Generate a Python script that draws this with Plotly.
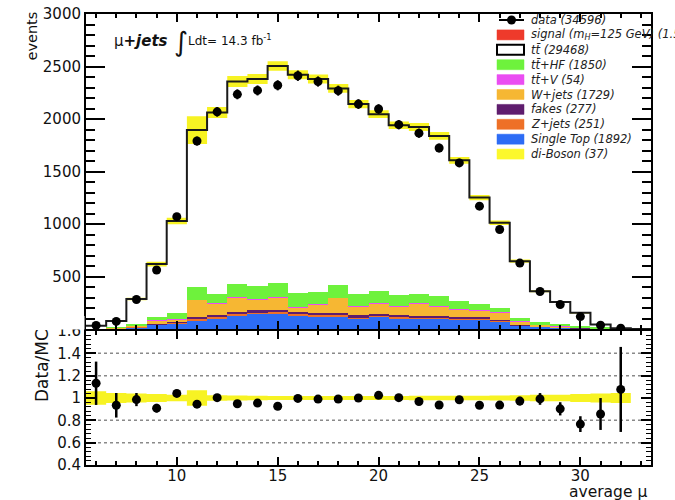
import numpy as np
import plotly.graph_objects as go

W, H = 675, 500

# bin centres of <mu> (unit-width bins)
bins = list(range(6, 33))

data_counts = [34, 72, 281, 562, 1070, 1790, 2068, 2235, 2272, 2321, 2412, 2357, 2270, 2142,
               2095, 1946, 1865, 1724, 1582, 1170, 948, 628, 357, 233, 118, 36, 8]

ttbar = [26.4, 57.7, 236.4, 503.8, 878.0, 1497.5, 1725.9, 1931.7, 1969.5, 2068.9, 2078.9, 2023.5,
         1876.6, 1810.2, 1681.6, 1617.0, 1590.2, 1524.1, 1338.5, 1011.9, 816.2, 543.8, 296.3,
         209.7, 124.2, 27.1, 2.4]
tthf = [1.0, 4.9, 14.6, 31.0, 55.4, 117.0, 87.0, 118.4, 125.4, 133.7, 137.0, 122.4, 114.5, 109.8,
        116.9, 103.0, 85.0, 93.2, 79.6, 62.0, 36.5, 30.0, 24.4, 20.6, 14.8, 8.9, 3.0]
ttv = [0.04, 0.12, 0.43, 0.93, 1.6, 2.9, 3.1, 3.6, 3.6, 3.8, 3.7, 3.6, 3.5, 3.2, 3.1, 2.9, 2.9,
       2.8, 2.4, 1.9, 1.5, 1.0, 0.6, 0.4, 0.2, 0.07, 0.02]
wjets = [0.7, 6.6, 12.0, 33.5, 27.7, 165.5, 112.4, 138.0, 102.7, 118.5, 40.0, 74.7, 140.0, 88.7,
         97.1, 85.3, 119.7, 93.7, 72.9, 64.2, 71.6, 32.8, 11.8, 10.1, 5.3, 2.6, 0.9]
fakes = [0.2, 0.6, 2.3, 4.7, 8.2, 14.6, 16.3, 18.0, 18.8, 19.2, 19.1, 18.2, 18.1, 16.5, 16.1,
         14.9, 15.2, 14.1, 12.7, 9.6, 8.1, 5.0, 3.0, 2.0, 1.2, 0.4, 0.1]
zjets = [0.2, 0.5, 2.0, 4.4, 7.1, 13.6, 14.2, 16.9, 16.5, 17.9, 16.8, 17.1, 15.9, 15.4, 14.1,
         13.9, 13.4, 13.2, 11.2, 9.1, 7.0, 4.7, 2.5, 1.9, 1.1, 0.3, 0.1]
single_top = [1.5, 6.5, 17, 39, 49, 81, 101, 128, 141, 141, 123, 118, 120, 96, 115, 101, 96, 96,
              88, 91.5, 70, 28, 21, 13, 7, 2.6, 0.9]
diboson = [0.0, 0.1, 0.3, 0.7, 1.0, 1.9, 2.1, 2.4, 2.5, 2.6, 2.5, 2.5, 2.4, 2.2, 2.1, 2.0, 2.0,
           1.9, 1.7, 1.3, 1.1, 0.7, 0.4, 0.3, 0.2, 0.05, 0.01]
signal = [0.0, 0.0, 0.01, 0.02, 0.04, 0.08, 0.09, 0.11, 0.12, 0.13, 0.12, 0.12, 0.11, 0.1, 0.09,
          0.08, 0.08, 0.07, 0.06, 0.04, 0.03, 0.02, 0.01, 0.01, 0.0, 0.0, 0.0]

# relative MC statistical uncertainty per bin
mc_rel_unc = [0.06, 0.045, 0.04, 0.035, 0.03, 0.07, 0.025, 0.022, 0.02, 0.018, 0.018, 0.018,
              0.018, 0.018, 0.018, 0.018, 0.02, 0.02, 0.02, 0.02, 0.022, 0.025, 0.028, 0.03,
              0.035, 0.04, 0.045]

x_range = [5.5, 33.5]
y_ticks_main = [0, 500, 1000, 1500, 2000, 2500, 3000]
y_ticks_ratio = [0.4, 0.6, 0.8, 1.0, 1.2, 1.4, 1.6]
ratio_grid = [0.6, 0.8, 1.2, 1.4]

C_SIG = "#ee3a2b"
C_HF = "#6ef23c"
C_TTV = "#ea4df2"
C_W = "#f6b733"
C_FAKE = "#5f1d6e"
C_Z = "#ee7027"
C_ST = "#2d6cf5"
C_VV = "#fcf82c"
C_BAND = "#f7f323"
FONT = "DejaVu Sans"


def px_x(p):
    return p / W


def px_y(p):
    return 1 - p / H


tbar = "tt\u0304"

fig = go.Figure()

# stacked backgrounds, bottom to top
stack = [
    (diboson, C_VV), (single_top, C_ST), (zjets, C_Z), (fakes, C_FAKE), (wjets, C_W),
    (ttv, C_TTV), (tthf, C_HF), (ttbar, "white"), (signal, C_SIG),
]
for vals, col in stack:
    fig.add_trace(go.Bar(x=bins, y=vals, width=1.0, marker=dict(color=col, line=dict(width=0)),
                         xaxis="x", yaxis="y", hoverinfo="skip"))

total = np.sum([np.array(v, dtype=float) for v, _ in stack], axis=0)
unc = np.array(mc_rel_unc)
data_arr = np.array(data_counts, dtype=float)

edges = [b - 0.5 for b in bins] + [bins[-1] + 0.5]


def band(lo, hi, xa, ya):
    lo_y = list(lo) + [lo[-1]]
    hi_y = list(hi) + [hi[-1]]
    fig.add_trace(go.Scatter(x=edges, y=lo_y, mode="lines", line=dict(width=0, shape="hv"),
                             xaxis=xa, yaxis=ya, hoverinfo="skip"))
    fig.add_trace(go.Scatter(x=edges, y=hi_y, mode="lines", line=dict(width=0, shape="hv"),
                             fill="tonexty", fillcolor=C_BAND, xaxis=xa, yaxis=ya,
                             hoverinfo="skip"))


band(total * (1 - unc), total * (1 + unc), "x", "y")

# outline of the total prediction
fig.add_trace(go.Scatter(x=edges + [x_range[1]], y=list(total) + [0, 0], mode="lines",
                         line=dict(color="#1a1a1a", width=2, shape="hv"),
                         xaxis="x", yaxis="y", hoverinfo="skip"))

fig.add_trace(go.Scatter(x=bins, y=data_counts, mode="markers",
                         marker=dict(color="black", size=9),
                         error_y=dict(type="data", array=np.sqrt(data_arr), width=0,
                                      thickness=2, color="black"),
                         xaxis="x", yaxis="y", hoverinfo="skip"))

# ratio panel
band(1 - unc, 1 + unc, "x2", "y2")
ratio = data_arr / total
ratio_err = np.sqrt(data_arr) / total
fig.add_trace(go.Scatter(x=bins, y=ratio, mode="markers", marker=dict(color="black", size=9),
                         error_y=dict(type="data", array=ratio_err, width=0, thickness=2.5,
                                      color="black"),
                         xaxis="x2", yaxis="y2", hoverinfo="skip"))

axis_common = dict(showline=True, linewidth=2, linecolor="black", mirror="allticks",
                   ticks="inside", tickcolor="black", showgrid=False, zeroline=False)

fig.update_layout(
    width=W, height=H, margin=dict(l=0, r=0, t=0, b=0), template="none",
    paper_bgcolor="white", plot_bgcolor="white", barmode="stack", bargap=0, showlegend=False,
    font=dict(family=FONT, color="#111"),
    xaxis=dict(domain=[px_x(86), px_x(651)], range=x_range, anchor="y", showticklabels=False,
               tick0=0, dtick=5, ticklen=8, tickwidth=1.5,
               minor=dict(dtick=1, ticklen=4, tickwidth=1.5, ticks="inside", tickcolor="black"),
               **axis_common),
    yaxis=dict(domain=[px_y(329), px_y(14)], range=[0, 3000], anchor="x",
               tickmode="array", tickvals=y_ticks_main,
               ticktext=[""] + [str(v) for v in y_ticks_main[1:]],
               ticklen=19, tickwidth=1.5, tickfont=dict(size=15),
               minor=dict(tickmode="linear", tick0=0, dtick=100, ticklen=9, tickwidth=1.5,
                          ticks="inside", tickcolor="black"),
               **axis_common),
    xaxis2=dict(domain=[px_x(86), px_x(651)], range=x_range, anchor="y2",
                tick0=0, dtick=5, ticklen=8, tickwidth=1.5, tickfont=dict(size=15),
                ticklabelstandoff=-4,
                minor=dict(dtick=1, ticklen=4, tickwidth=1.5, ticks="inside", tickcolor="black"),
                **axis_common),
    yaxis2=dict(domain=[px_y(465), px_y(331)], range=[0.4, 1.6], anchor="x2",
                tickmode="array", tickvals=y_ticks_ratio,
                ticktext=["0.4", "0.6", "0.8", "1", "1.2", "1.4", "1.6"],
                ticklen=10, tickwidth=1.5, tickfont=dict(size=15),
                minor=dict(tickmode="linear", tick0=0.4, dtick=0.04, ticklen=5, tickwidth=1.2,
                           ticks="inside", tickcolor="black"),
                **axis_common),
)

shapes = []
for g in ratio_grid:
    shapes.append(dict(type="line", xref="x2 domain", x0=0, x1=1, yref="y2", y0=g, y1=g,
                       line=dict(color="#8a8a8a", width=1.5, dash="dot"), layer="below"))
# upper pad hides the top of the ratio panel's first label
shapes.append(dict(type="rect", xref="paper", yref="paper", x0=0, x1=px_x(84.5),
                   y0=px_y(329.5), y1=px_y(316), fillcolor="white", line=dict(width=0),
                   layer="above"))

annotations = []


def ann(text, xp, yp, size, xanchor="left", yanchor="middle", angle=0, color="#111", **kw):
    annotations.append(dict(text=text, x=px_x(xp), y=px_y(yp), xref="paper", yref="paper",
                            showarrow=False, xanchor=xanchor, yanchor=yanchor, textangle=angle,
                            font=dict(size=size, color=color, family=FONT), **kw))


ann("events", 31, 10, 14.5, xanchor="center", yanchor="top", angle=-90)
ann("Data/MC", 42, 366, 17, xanchor="center", yanchor="middle", angle=-90)
ann("average \u03bc", 649, 491.5, 15.5, xanchor="right")
ann("\u03bc<b><i>+jets</i></b>", 112, 41, 15)
ann("\u222b", 172, 42, 27)
ann("Ldt= 14.3 fb<sup>-1</sup>", 186, 40, 12)

# legend
legend_rows = [
    ("data", data_counts, None),
    ("signal (m<sub>H</sub>=125 GeV)", signal, C_SIG),
    (tbar, ttbar, "white"),
    (tbar + "+HF", tthf, C_HF),
    (tbar + "+V", ttv, C_TTV),
    ("W+jets", wjets, C_W),
    ("fakes", fakes, C_FAKE),
    ("Z+jets", zjets, C_Z),
    ("Single Top", single_top, C_ST),
    ("di-Boson", diboson, C_VV),
]
for i, (label, vals, col) in enumerate(legend_rows):
    yc = 20 + 14.9 * i
    tot = float(np.sum(vals))
    num = f"{tot:.1f}" if tot < 10 else f"{tot:.0f}"
    ann(f"<i>{label} ({num})</i>", 529, yc, 11.5, color="#222")
    if col is None:
        shapes.append(dict(type="line", xref="paper", yref="paper", x0=px_x(499), x1=px_x(524),
                           y0=px_y(yc), y1=px_y(yc), line=dict(color="black", width=2)))
        shapes.append(dict(type="circle", xref="paper", yref="paper", x0=px_x(507),
                           x1=px_x(516), y0=px_y(yc + 4.5), y1=px_y(yc - 4.5),
                           fillcolor="black", line=dict(width=0)))
    else:
        edge = dict(color="black", width=2) if col == "white" else dict(color=col, width=0.5)
        shapes.append(dict(type="rect", xref="paper", yref="paper", x0=px_x(497), x1=px_x(524),
                           y0=px_y(yc + 5), y1=px_y(yc - 5), fillcolor=col, line=edge))

fig.update_layout(shapes=shapes, annotations=annotations)

fig.write_html("out.html")
